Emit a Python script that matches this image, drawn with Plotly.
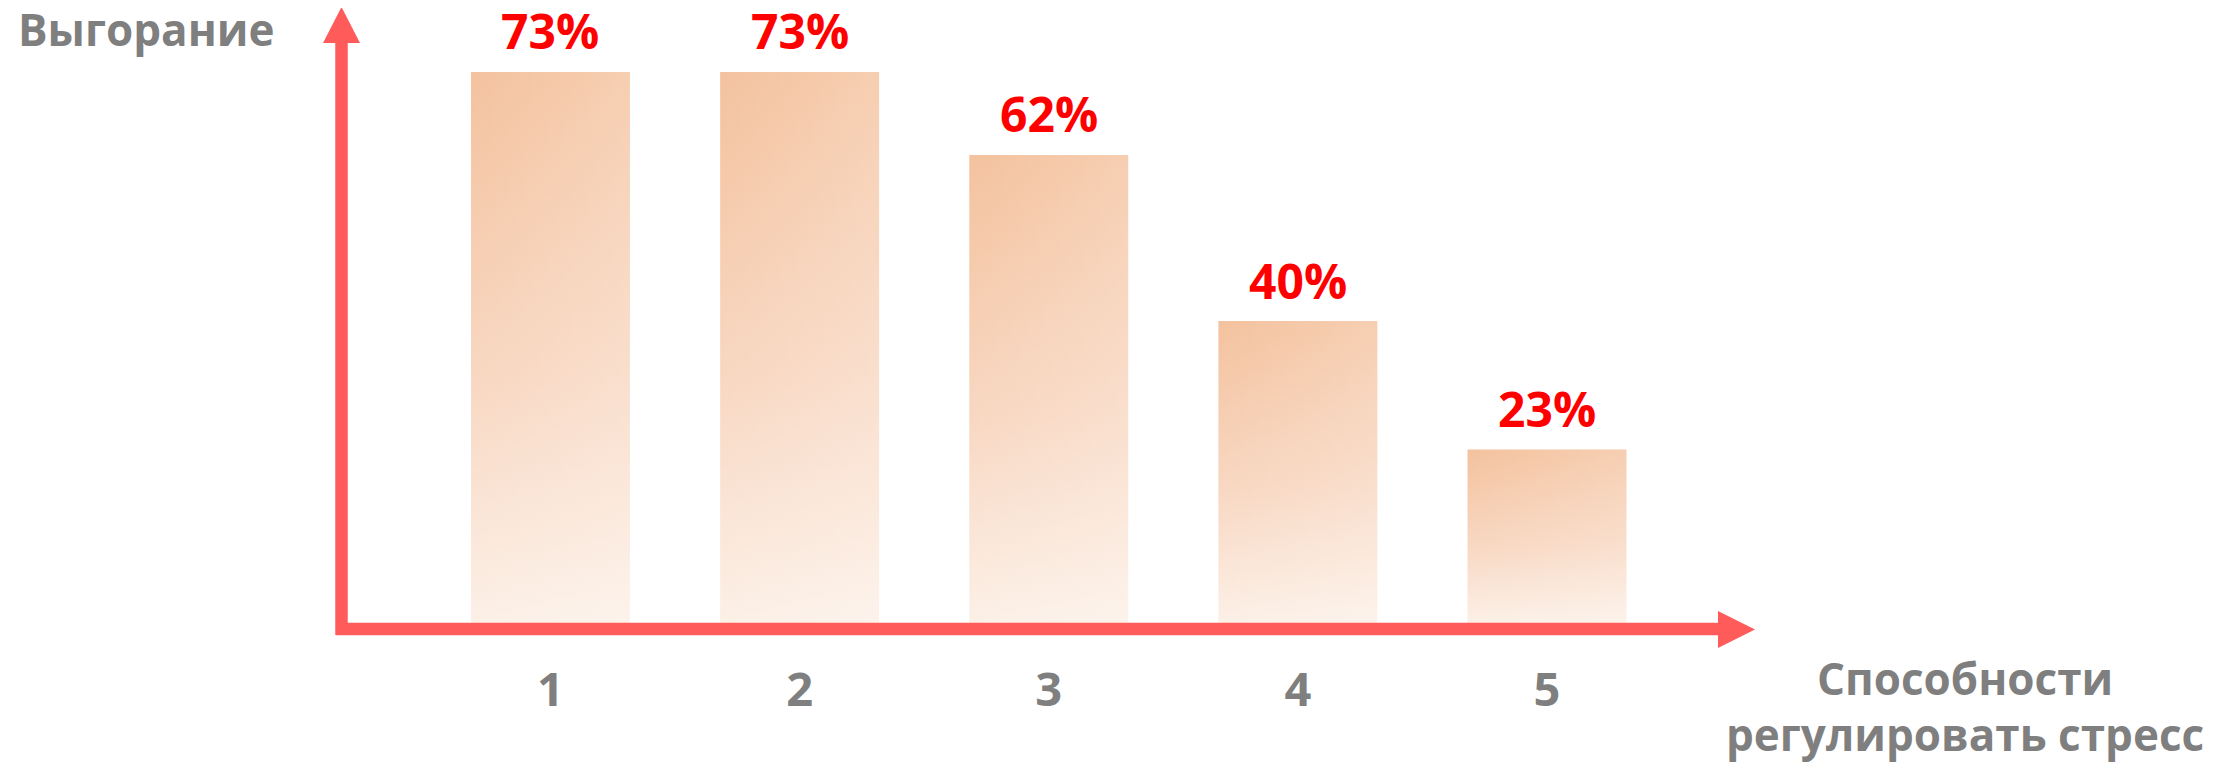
import plotly.graph_objects as go

# ---- data ----
categories = ["1", "2", "3", "4", "5"]
positions = [1, 2, 3, 4, 5]
values = [73, 73, 62, 40, 23]
value_labels = ["73%", "73%", "62%", "40%", "23%"]
y_title = "Выгорание"
x_title_line1 = "Способности"
x_title_line2 = "регулировать стресс"

# ---- style ----
OFF = 8  # page body margin
W, H = 2231 - OFF, 768 - OFF
ML, MR, MT, MB = 328, 476, 0, 133
PW, PH = W - ML - MR, H - MT - MB
XR = [0.139, 5.835]
YR = [-1.59, 81.47]
HALF = 0.319
AXIS_COLOR = "#FF5B5B"
GRAY = "#7F7F7F"
RED = "#FF0000"
FONT = "Open Sans"


def sx(px):
    """screen x pixel -> paper x"""
    return (px - OFF - ML) / PW


def sy(py):
    """screen y pixel -> paper y"""
    return (H - MB - (py - OFF)) / PH


fig = go.Figure()

for pos, val in zip(positions, values):
    xs = [pos - HALF, pos + HALF, pos + HALF, pos - HALF, pos - HALF]
    ys = [0, 0, val, val, 0]
    fig.add_trace(go.Scatter(
        x=xs, y=ys, mode="lines", fill="toself", line=dict(width=0),
        fillgradient=dict(type="vertical",
                          colorscale=[[0, "#FCF0E7"], [0.45, "#F8D7C1"], [1, "#F4C29E"]]),
        hoverinfo="skip", showlegend=False))
    fig.add_trace(go.Scatter(
        x=xs, y=ys, mode="lines", fill="toself", line=dict(width=0),
        fillgradient=dict(type="horizontal",
                          colorscale=[[0, "rgba(255,255,255,0)"], [1, "rgba(255,255,255,0.2)"]]),
        hoverinfo="skip", showlegend=False))

# percent labels
for pos, val, lab in zip(positions, values, value_labels):
    fig.add_annotation(x=pos, y=val, xref="x", yref="y", text=lab, showarrow=False,
                       yanchor="middle", yshift=41,
                       font=dict(family=FONT, size=48, color=RED, weight="bold"))

# axis arrows
fig.add_shape(type="line", xref="paper", yref="paper",
              x0=sx(341.5), x1=sx(341.5), y0=sy(635), y1=sy(40),
              line=dict(color=AXIS_COLOR, width=12.5))
fig.add_shape(type="path", xref="paper", yref="paper",
              xsizemode="pixel", ysizemode="pixel",
              xanchor=sx(341.5), yanchor=sy(7),
              path="M -18.5,-36 L 18.5,-36 L 0,0 Z",
              fillcolor=AXIS_COLOR, line=dict(width=0))
fig.add_shape(type="line", xref="paper", yref="paper",
              x0=sx(336), x1=sx(1720), y0=sy(629), y1=sy(629),
              line=dict(color=AXIS_COLOR, width=12.5))
fig.add_shape(type="path", xref="paper", yref="paper",
              xsizemode="pixel", ysizemode="pixel",
              xanchor=sx(1755), yanchor=sy(629.5),
              path="M -37,-18.5 L -37,18.5 L 0,0 Z",
              fillcolor=AXIS_COLOR, line=dict(width=0))

# axis titles
title_font = dict(family=FONT, size=44, color=GRAY, weight="bold")
fig.add_annotation(x=sx(16), y=sy(28.5), xref="paper", yref="paper",
                   text=y_title, showarrow=False, xanchor="left", yanchor="middle",
                   font=title_font)
fig.add_annotation(x=sx(1965), y=sy(678), xref="paper", yref="paper",
                   text=x_title_line1, showarrow=False, xanchor="center", yanchor="middle",
                   font=title_font)
fig.add_annotation(x=sx(1965), y=sy(734), xref="paper", yref="paper",
                   text=x_title_line2, showarrow=False, xanchor="center", yanchor="middle",
                   font=title_font)

fig.update_layout(
    width=W, height=H,
    margin=dict(l=ML, r=MR, t=MT, b=MB, pad=0),
    paper_bgcolor="white", plot_bgcolor="white",
    showlegend=False,
    xaxis=dict(range=XR, tickvals=positions, ticktext=categories,
               showgrid=False, zeroline=False, showline=False, ticks="",
               ticklabelstandoff=23,
               tickfont=dict(family=FONT, size=47, color=GRAY, weight="bold"),
               fixedrange=True),
    yaxis=dict(range=YR, visible=False, fixedrange=True),
)

fig.write_html("out.html")
